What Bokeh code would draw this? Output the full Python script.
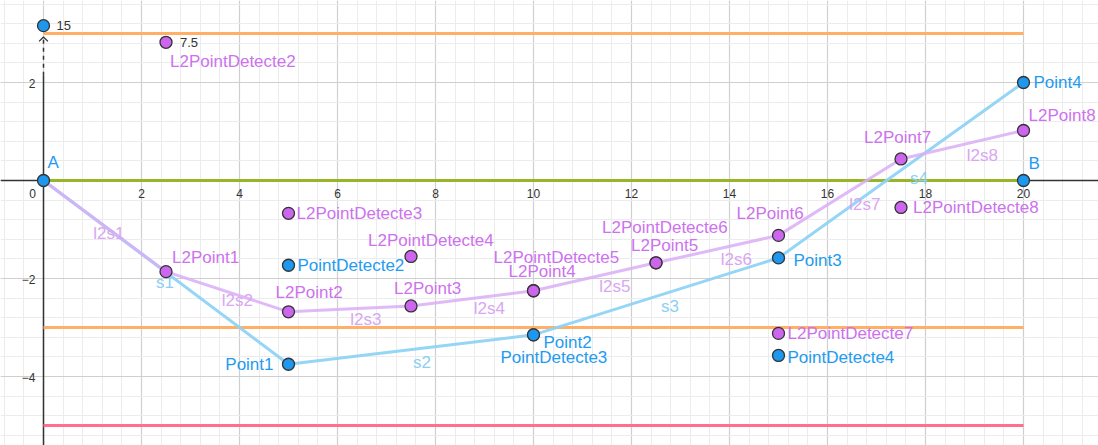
from bokeh.plotting import figure
from bokeh.models import Range1d, Grid, SingleIntervalTicker
from bokeh.core.properties import value
from bokeh.embed import file_html
from bokeh.resources import INLINE

# ---------------- data ----------------
path_names = ["A", "Point1", "Point2", "Point3", "Point4"]
path_x = [0, 5, 10, 15, 20]
path_y = [0, -3.75, -3.15, -1.58, 2.0]
path_seg = ["s1", "s2", "s3", "s4"]

l2_names = ["A", "L2Point1", "L2Point2", "L2Point3", "L2Point4", "L2Point5", "L2Point6", "L2Point7", "L2Point8"]
l2_x = [0, 2.5, 5, 7.5, 10, 12.5, 15, 17.5, 20]
l2_y = [0, -1.86, -2.68, -2.56, -2.25, -1.68, -1.12, 0.44, 1.02]
l2_seg = ["l2s1", "l2s2", "l2s3", "l2s4", "l2s5", "l2s6", "l2s7", "l2s8"]

det_names = ["PointDetecte2", "PointDetecte3", "PointDetecte4"]
det_x = [5, 10, 15]
det_y = [-1.73, -3.15, -3.57]

l2det_names = ["L2PointDetecte2", "L2PointDetecte3", "L2PointDetecte4", "L2PointDetecte5",
               "L2PointDetecte6", "L2PointDetecte7", "L2PointDetecte8"]
l2det_x = [2.5, 5, 7.5, 10, 12.5, 15, 17.5]
l2det_y = [2.82, -0.67, -1.55, -2.25, -1.68, -3.12, -0.55]

b_name, b_x, b_y = "B", 20, 0
top_label, top_x, top_y = "15", 0, 3.16
val_label = "7.5"

level_upper = 3
level_lower = -3
level_floor = -5
level_base = 0
level_x0, level_x1 = 0, 20

x_ticks = [0, 2, 4, 6, 8, 10, 12, 14, 16, 18, 20]
y_ticks = [2, -2, -4]

# ---------------- style ----------------
FONT = value("Liberation Sans")
BLUE = "#1e98ee"
BLUE_TXT = "#1f9bf0"
BLUE_LINE = "#8fd3f6"
BLUE_SEG_TXT = "#8dcff3"
PURP = "#cc66ee"
PURP_TXT = "#cd72ee"
PURP_LINE = "#d9aef6"
PURP_SEG_TXT = "#d9a6f2"

X0, X1 = -43 / 49, (1098 - 43) / 49
Y0, Y1 = -(445 - 180) / 49, 180 / 49

p = figure(width=1098, height=445, x_range=Range1d(X0, X1), y_range=Range1d(Y0, Y1),
           x_axis_type=None, y_axis_type=None, output_backend="svg", toolbar_location=None,
           min_border=0, outline_line_color=None, background_fill_color="white")

for dim in (0, 1):
    g = Grid(dimension=dim, ticker=SingleIntervalTicker(interval=2, num_minor_ticks=5),
             grid_line_color="#cfcfcf", grid_line_width=1.2,
             minor_grid_line_color="#ececec", minor_grid_line_width=1)
    p.add_layout(g)

# axes
p.line([X0, X1], [0, 0], line_color="#333333", line_width=1.5)
p.line([0, 0], [Y0, 2.14], line_color="#333333", line_width=1.5)
p.line([0, 0], [2.14, 2.92], line_color="#333333", line_width=1.5, line_dash="4 4")
p.line([-0.09, 0, 0.09], [2.84, 2.93, 2.84], line_color="#333333", line_width=1.3)

# horizontal levels
p.line([level_x0, level_x1], [level_upper, level_upper], line_color="#ffb066", line_width=3)
p.line([level_x0, level_x1], [level_lower, level_lower], line_color="#ffb066", line_width=3)
p.line([level_x0, level_x1], [level_floor, level_floor], line_color="#ff6f8f", line_width=3)
p.line([level_x0, level_x1], [level_base, level_base], line_color="#96b628", line_width=3)

# tick labels
p.text(x=x_ticks, y=[0] * len(x_ticks), text=[str(t) for t in x_ticks],
       x_offset=[-11 if t == 0 else 0 for t in x_ticks], y_offset=13,
       text_font=FONT, text_font_size="12px", text_color="#333333",
       text_align="center", text_baseline="middle")
p.text(x=[0] * len(y_ticks), y=y_ticks, text=[("\u2212" + str(-t)) if t < 0 else str(t) for t in y_ticks],
       x_offset=-8, y_offset=1, text_font=FONT, text_font_size="12px", text_color="#333333",
       text_align="right", text_baseline="middle")

# paths
p.line(path_x, path_y, line_color=BLUE_LINE, line_width=3, line_alpha=0.95)
p.line(l2_x, l2_y, line_color=PURP_LINE, line_width=3, line_alpha=0.85)

# segment labels (midpoints + pixel offsets)
seg_off_path = [(-1, 10), (11, 13), (14, 10), (18, 8)]
seg_off_l2 = [(4, 7), (10, 9), (16, 11), (17, 10), (20, 10), (19, 10), (25, 7), (20, 11)]
mx = [(path_x[i] + path_x[i + 1]) / 2 for i in range(len(path_seg))]
my = [(path_y[i] + path_y[i + 1]) / 2 for i in range(len(path_seg))]
p.text(x=mx, y=my, text=path_seg, x_offset=[o[0] for o in seg_off_path], y_offset=[o[1] for o in seg_off_path],
       text_font=FONT, text_font_size="17px", text_color=BLUE_SEG_TXT, text_align="center", text_baseline="middle")
mx = [(l2_x[i] + l2_x[i + 1]) / 2 for i in range(len(l2_seg))]
my = [(l2_y[i] + l2_y[i + 1]) / 2 for i in range(len(l2_seg))]
p.text(x=mx, y=my, text=l2_seg, x_offset=[o[0] for o in seg_off_l2], y_offset=[o[1] for o in seg_off_l2],
       text_font=FONT, text_font_size="17px", text_color=PURP_SEG_TXT, text_align="center", text_baseline="middle")

# points
pt_kw = dict(size=12, line_color="#333333", line_width=1.3)
p.scatter(l2_x[1:], l2_y[1:], fill_color=PURP, **pt_kw)
p.scatter(l2det_x, l2det_y, fill_color=PURP, **pt_kw)
p.scatter(det_x, det_y, fill_color=BLUE, **pt_kw)
p.scatter(path_x, path_y, fill_color=BLUE, **pt_kw)
p.scatter([b_x], [b_y], fill_color=BLUE, **pt_kw)
p.scatter([top_x], [top_y], fill_color=BLUE, **pt_kw)

# point labels
def labels(xs, ys, names, offs, color, size="17px", align="left"):
    p.text(x=xs, y=ys, text=names, x_offset=[o[0] for o in offs], y_offset=[o[1] for o in offs],
           text_font=FONT, text_font_size=size, text_color=color, text_align=align, text_baseline="middle")

labels([path_x[0], path_x[2], path_x[3], path_x[4]], [path_y[0], path_y[2], path_y[3], path_y[4]],
       [path_names[0], path_names[2], path_names[3], path_names[4]],
       [(4, -18), (10, 8), (15, 3), (10, 0)], BLUE_TXT)
labels([path_x[1]], [path_y[1]], [path_names[1]], [(-15, 0)], BLUE_TXT, align="right")
labels([b_x], [b_y], [b_name], [(5, -17)], BLUE_TXT)
labels(det_x, det_y, det_names, [(9, 0), (-33, 23), (9, 2)], BLUE_TXT)

labels(l2_x[1:], l2_y[1:], l2_names[1:],
       [(6, -14), (-13, -19), (-17, -17), (-25, -19), (-25, -17), (-42, -22), (-37, -21), (5, -15)], PURP_TXT)
labels(l2det_x, l2det_y, l2det_names,
       [(4, 19), (8, 0), (-43, -16), (-40, -33), (-54, -35), (9, 0), (12, 0)], PURP_TXT)

labels([top_x], [top_y], [top_label], [(13, 0)], "#333333", size="13px")
labels([l2det_x[0]], [l2det_y[0]], [val_label], [(14, 0)], "#333333", size="13px")

open("out.html", "w").write(file_html(p, INLINE))
